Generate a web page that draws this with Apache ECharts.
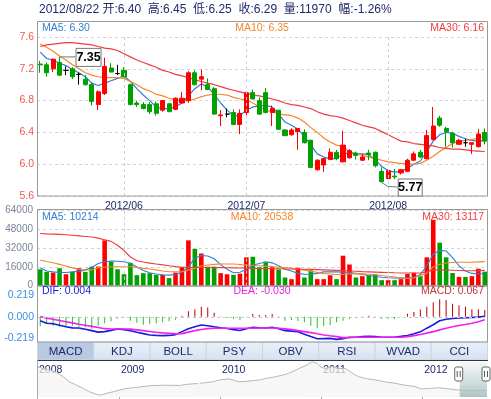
<!DOCTYPE html>
<html>
<head>
<meta charset="utf-8">
<script src="https://cdn.jsdelivr.net/npm/echarts@6/dist/echarts.min.js"></script>
<style>
html, body { margin: 0; padding: 0; background: #fff; }
#main { width: 491px; height: 399px; }
</style>
</head>
<body>
<div id="main"></div>
<script>
// trading days shown in the main window
var dates = [
  '2012/05/15','2012/05/16','2012/05/17','2012/05/18','2012/05/21','2012/05/22','2012/05/23','2012/05/24','2012/05/25','2012/05/28','2012/05/29','2012/05/30','2012/05/31',
  '2012/06/01','2012/06/04','2012/06/05','2012/06/06','2012/06/07','2012/06/08','2012/06/11','2012/06/12','2012/06/13','2012/06/14','2012/06/15','2012/06/18','2012/06/19','2012/06/20','2012/06/25','2012/06/26','2012/06/27','2012/06/28','2012/06/29',
  '2012/07/02','2012/07/03','2012/07/04','2012/07/05','2012/07/06','2012/07/09','2012/07/10','2012/07/11','2012/07/12','2012/07/13','2012/07/16','2012/07/17','2012/07/18','2012/07/19','2012/07/20','2012/07/23','2012/07/24','2012/07/25','2012/07/26','2012/07/27','2012/07/30','2012/07/31',
  '2012/08/01','2012/08/02','2012/08/03','2012/08/06','2012/08/07','2012/08/08','2012/08/09','2012/08/10','2012/08/13','2012/08/14','2012/08/15','2012/08/16','2012/08/17','2012/08/20','2012/08/21','2012/08/22'
];
var monthStarts = ['2012/06/01', '2012/07/02', '2012/08/01'];

var openP  = [7.26,7.25,7.20,7.28,7.18,7.20,7.13,7.07,7.00,6.75,6.89,7.21,7.14,7.18,7.00,6.77,6.75,6.75,6.76,6.68,6.76,6.69,6.77,6.80,7.15,7.07,7.00,6.95,6.61,6.63,6.65,6.50,6.65,6.90,6.80,6.90,6.65,6.68,6.43,6.37,6.41,6.40,6.30,5.93,5.99,6.06,6.15,6.03,6.08,6.14,6.05,6.14,6.15,5.91,5.82,5.85,5.89,5.91,6.05,6.15,6.07,6.31,6.58,6.45,6.39,6.25,6.27,6.25,6.22,6.40];
var closeP = [7.25,7.15,7.32,7.12,7.18,7.10,7.13,7.00,6.79,6.91,7.23,7.16,7.14,7.10,6.75,6.75,6.70,6.66,6.64,6.80,6.66,6.83,6.83,7.15,7.00,7.10,6.94,6.63,6.62,6.63,6.50,6.64,6.90,6.82,6.63,6.65,6.70,6.44,6.36,6.43,6.45,6.27,5.96,6.05,6.07,6.15,6.07,6.24,6.17,6.11,6.09,6.12,5.98,5.78,5.92,5.84,5.93,6.05,6.13,6.09,6.36,6.48,6.49,6.41,6.27,6.30,6.27,6.27,6.38,6.29];
var highP  = [7.30,7.28,7.33,7.35,7.23,7.22,7.15,7.12,7.03,6.93,7.34,7.27,7.25,7.22,7.01,6.80,6.78,6.78,6.79,6.80,6.76,6.84,6.91,7.17,7.18,7.19,7.08,6.97,6.68,6.70,6.69,6.69,6.91,6.94,6.84,6.96,6.74,6.68,6.44,6.45,6.45,6.44,6.31,6.06,6.07,6.20,6.18,6.42,6.19,6.16,6.13,6.18,6.16,5.96,5.93,5.94,5.94,6.07,6.16,6.18,6.43,6.72,6.61,6.47,6.41,6.32,6.32,6.27,6.44,6.45];
var lowP   = [7.15,7.10,7.16,7.11,7.12,7.07,7.00,6.99,6.74,6.68,6.87,7.15,7.12,7.10,6.74,6.72,6.69,6.63,6.61,6.66,6.66,6.68,6.76,6.77,6.99,6.93,6.93,6.62,6.48,6.59,6.49,6.38,6.58,6.82,6.62,6.64,6.48,6.43,6.35,6.36,6.18,6.26,5.95,5.92,5.90,6.05,6.05,6.02,6.07,6.06,6.04,6.05,5.96,5.77,5.81,5.81,5.87,5.90,6.04,6.08,6.06,6.30,6.47,6.22,6.21,6.25,6.22,6.13,6.21,6.25];

var priceMA5  = [7.41,7.33,7.31,7.27,7.24,7.19,7.15,7.10,7.02,6.99,7.02,7.05,7.08,7.11,7.04,6.95,6.87,6.80,6.72,6.70,6.70,6.72,6.77,6.86,6.95,7.01,6.97,6.88,6.77,6.68,6.61,6.61,6.68,6.72,6.73,6.74,6.72,6.63,6.53,6.49,6.44,6.35,6.24,6.13,6.09,6.07,6.07,6.13,6.14,6.13,6.13,6.12,6.06,5.97,5.92,5.90,5.91,5.95,6.00,6.04,6.16,6.29,6.37,6.40,6.39,6.35,6.32,6.30,6.29,6.30];
var priceMA10 = [7.51,7.47,7.42,7.36,7.31,7.25,7.20,7.15,7.12,7.10,7.09,7.09,7.09,7.08,7.04,7.00,6.95,6.92,6.88,6.86,6.83,6.81,6.80,6.80,6.82,6.85,6.87,6.88,6.88,6.87,6.84,6.82,6.81,6.77,6.72,6.68,6.66,6.63,6.62,6.61,6.58,6.53,6.46,6.40,6.33,6.28,6.24,6.22,6.16,6.13,6.11,6.09,6.07,6.05,6.03,6.02,6.01,6.00,6.00,6.01,6.05,6.10,6.16,6.21,6.26,6.29,6.30,6.31,6.33,6.35];
var priceMA30 = [7.48,7.50,7.51,7.52,7.53,7.53,7.52,7.51,7.50,7.48,7.46,7.45,7.43,7.39,7.35,7.31,7.28,7.25,7.22,7.18,7.16,7.13,7.11,7.09,7.06,7.04,7.02,7.00,6.975,6.95,6.93,6.91,6.89,6.87,6.86,6.84,6.82,6.80,6.77,6.75,6.74,6.72,6.70,6.66,6.63,6.61,6.60,6.58,6.55,6.52,6.49,6.47,6.45,6.41,6.37,6.33,6.29,6.28,6.26,6.25,6.24,6.23,6.21,6.20,6.19,6.19,6.18,6.17,6.165,6.16];

var volume = [14000,11800,11200,14900,9800,11800,14900,11800,16300,16300,38700,20500,14000,9800,19600,9000,10700,10700,9300,9300,6500,11200,16000,38700,31400,27500,16300,16300,10700,9800,9300,10300,24200,24700,15800,20000,15800,13900,7000,5600,15300,7000,13100,5600,5600,8900,5600,25600,18100,7000,8100,8900,9700,4700,4700,4700,5600,10000,11000,8000,24200,56200,36700,24200,10800,7500,7500,8100,14500,11970];
var volMA5  = [15400,12500,11800,11200,11300,11800,12200,13500,15500,19000,20500,21000,20800,20500,19000,16000,13000,11000,10000,9300,9000,9500,11500,16000,23500,25800,25400,23000,18000,14000,11000,11500,14000,17500,19000,20500,19500,17000,14000,12500,10500,9800,9800,10500,11800,11800,11800,11500,11200,10500,9800,8500,8000,7200,6800,6600,6500,6600,7000,9500,17000,27000,30000,29800,24000,17000,12500,10500,10200,10214];
var volMA10 = [21900,20700,19600,18200,16800,15200,13800,13400,13400,15200,15700,16200,16200,16200,16200,15500,14800,14200,13400,12600,11900,11900,11900,13500,14800,17000,17700,18200,18500,18500,18500,18100,17700,17300,17000,16700,16300,15800,15400,14900,14200,13300,12400,11400,10300,10000,9600,9700,10100,10300,10100,9800,9400,8700,8100,7400,6700,6200,6700,8800,10500,16000,18200,19400,19800,20000,20000,20100,20300,20538];
var volMA30 = [44500,44200,44000,43800,43500,43000,42500,42000,41500,40600,39200,37800,34500,30000,24500,21300,20200,19300,18500,17800,17000,16300,15800,15600,15500,15500,15500,15400,15400,15300,15200,15100,15000,14800,14700,14600,14500,14400,14300,14200,14100,14000,13900,13700,13500,13300,13100,12900,12600,12300,12000,11800,11600,11400,11200,11000,10900,10800,10800,10900,11800,13500,13600,13400,13200,13000,12800,12700,12900,13117];

var dif  = [-0.040,-0.066,-0.070,-0.085,-0.100,-0.112,-0.113,-0.125,-0.140,-0.155,-0.150,-0.137,-0.123,-0.130,-0.140,-0.156,-0.170,-0.183,-0.188,-0.190,-0.188,-0.180,-0.150,-0.120,-0.100,-0.083,-0.090,-0.100,-0.110,-0.118,-0.130,-0.138,-0.120,-0.106,-0.110,-0.113,-0.106,-0.120,-0.140,-0.145,-0.150,-0.175,-0.200,-0.222,-0.220,-0.218,-0.228,-0.220,-0.206,-0.206,-0.200,-0.196,-0.200,-0.206,-0.206,-0.206,-0.198,-0.188,-0.172,-0.152,-0.115,-0.080,-0.040,-0.025,-0.017,-0.012,-0.010,-0.007,-0.004,0.004];
var dea  = [0.003,-0.015,-0.025,-0.038,-0.050,-0.062,-0.075,-0.085,-0.097,-0.108,-0.120,-0.123,-0.123,-0.123,-0.125,-0.132,-0.140,-0.148,-0.156,-0.162,-0.166,-0.172,-0.170,-0.155,-0.140,-0.128,-0.120,-0.116,-0.116,-0.116,-0.116,-0.116,-0.116,-0.115,-0.114,-0.113,-0.113,-0.115,-0.122,-0.130,-0.140,-0.150,-0.160,-0.172,-0.183,-0.192,-0.200,-0.210,-0.210,-0.206,-0.206,-0.206,-0.206,-0.206,-0.206,-0.206,-0.206,-0.200,-0.190,-0.178,-0.165,-0.150,-0.132,-0.115,-0.100,-0.088,-0.078,-0.066,-0.050,-0.030];
var macd = [-0.095,-0.075,-0.090,-0.100,-0.100,-0.090,-0.100,-0.105,-0.120,-0.090,-0.065,-0.045,-0.020,-0.005,-0.040,-0.060,-0.080,-0.075,-0.065,-0.055,-0.045,-0.030,0.010,0.055,0.075,0.100,0.094,0.040,0.003,-0.013,-0.023,-0.033,0.003,0.027,0.017,0.017,0.027,0.002,-0.040,-0.033,-0.043,-0.056,-0.090,-0.116,-0.096,-0.083,-0.056,-0.040,-0.023,-0.013,-0.003,0.010,-0.003,-0.023,-0.023,-0.023,-0.003,0.030,0.047,0.072,0.100,0.145,0.176,0.169,0.132,0.115,0.101,0.075,0.075,0.067];

// overview strip (year fraction, relative level 0..100)
var navYears  = [2008.19,2008.25,2008.32,2008.38,2008.45,2008.51,2008.58,2008.65,2008.71,2008.78,2008.81,2008.88,2008.94,2009.01,2009.07,2009.14,2009.24,2009.33,2009.47,2009.60,2009.66,2009.80,2009.93,2009.99,2010.09,2010.19,2010.29,2010.39,2010.45,2010.55,2010.65,2010.71,2010.78,2010.85,2010.91,2010.96,2010.99,2011.04,2011.11,2011.17,2011.24,2011.31,2011.37,2011.44,2011.54,2011.63,2011.73,2011.83,2011.93,2011.99,2012.06,2012.16,2012.26,2012.36,2012.49,2012.64];
var navValues = [82,77,73,67,55,41,32,23,14,7,5,10,14,19,23,25,28,31,32,31,34,37,41,46,49,41,43,46,50,55,61,68,77,85,95,91,82,77,82,77,77,64,55,50,46,41,37,32,28,22,23,25,22,19,16,19];
var navYearTicks = [2008.19, 2009, 2010, 2011, 2012];
var navSelStart = 2012.37;

var tabs = ['MACD', 'KDJ', 'BOLL', 'PSY', 'OBV', 'RSI', 'WVAD', 'CCI'];

var UP = '#ff0000', DOWN = '#00a000';
var C5 = '#2f7fd6', C10 = '#f5862a', C30 = '#f03c3c';
var NAVY = '#1f2a6b';
var FONT = 'Liberation Sans, Arial, "Noto Sans CJK SC", sans-serif';

var n = dates.length;
var candle = dates.map(function (d, i) { return [openP[i], closeP[i], lowP[i], highP[i]]; });
function isUp(i) {
  if (closeP[i] !== openP[i]) return closeP[i] > openP[i];
  return i > 0 ? closeP[i] >= closeP[i - 1] : true;
}

var monthLine = {
  silent: true, symbol: 'none', animation: false, label: { show: false },
  lineStyle: { color: '#d0d0d0', type: [3, 3], width: 1 },
  data: monthStarts.map(function (d) { return { xAxis: d }; })
};

function catAxis(gi, showLabel) {
  return {
    type: 'category', gridIndex: gi, data: dates, boundaryGap: true,
    axisLine: { show: false }, axisTick: { show: false }, splitLine: { show: false },
    axisLabel: {
      show: showLabel, color: NAVY, fontSize: 10.5, margin: 5,
      interval: function (idx, val) { return monthStarts.indexOf(val) >= 0; },
      formatter: function (v) { return v.slice(0, 7); }
    }
  };
}

function lineS(name, data, color, xi, w) {
  return {
    name: name, type: 'line', xAxisIndex: xi, yAxisIndex: xi, data: data,
    showSymbol: false, silent: true, lineStyle: { color: color, width: w || 1.2 }, z: 3
  };
}

var dashed = { lineStyle: { color: '#d4d4d4', type: [3, 3] } };

var option = {
  animation: false,
  textStyle: { fontFamily: FONT },
  grid: [
    { left: 37, right: 3, top: 37, height: 159 },
    { left: 37, right: 3, top: 210.7, height: 75 },
    { left: 37, right: 3, top: 295, height: 43.5 },
    { left: 37, right: 4, top: 360, height: 37 }
  ],
  xAxis: [
    catAxis(0, true), catAxis(1, false), catAxis(2, false),
    {
      type: 'value', gridIndex: 3, min: navYears[0], max: navYears[navYears.length - 1], position: 'top',
      axisLine: { show: false }, splitLine: { show: false },
      axisTick: { show: true, inside: true, length: 7, customValues: navYearTicks, lineStyle: { color: '#aaa' } },
      axisLabel: {
        show: true, inside: true, customValues: navYearTicks, align: 'left', margin: 5,
        color: NAVY, fontSize: 10.5, padding: [0, 0, 0, 2],
        formatter: function (v) { return String(Math.floor(v + 1e-6)); }
      }
    }
  ],
  yAxis: [
    {
      gridIndex: 0, min: 5.6, max: 7.6, interval: 0.4,
      axisLine: { show: false }, axisTick: { show: false }, splitLine: dashed,
      axisLabel: { color: '#f05a4a', fontSize: 10.5, margin: 3, formatter: function (v) { return v.toFixed(1); } }
    },
    {
      gridIndex: 1, min: 0, max: 64000, interval: 16000,
      axisLine: { show: false }, axisTick: { show: false }, splitLine: dashed,
      axisLabel: { color: '#7a8598', fontSize: 10, margin: 4, formatter: function (v) { return String(v); } }
    },
    {
      gridIndex: 2, min: -0.219, max: 0.219, interval: 0.219,
      axisLine: { show: false }, axisTick: { show: false }, splitLine: { show: false },
      axisLabel: { color: '#3a8ee6', fontSize: 10.5, margin: 3, formatter: function (v) { return v.toFixed(3); } }
    },
    { gridIndex: 3, min: 0, max: 100, show: false }
  ],
  series: [
    {
      name: 'K', type: 'candlestick', xAxisIndex: 0, yAxisIndex: 0, data: candle, barWidth: 4.6,
      itemStyle: { color: UP, color0: DOWN, borderColor: UP, borderColor0: DOWN, borderColorDoji: '#000', borderWidth: 1 },
      markLine: monthLine, z: 4
    },
    lineS('MA5', priceMA5, C5, 0),
    lineS('MA10', priceMA10, C10, 0),
    lineS('MA30', priceMA30, C30, 0),
    {
      name: 'VOL', type: 'bar', xAxisIndex: 1, yAxisIndex: 1, barWidth: 4.6,
      data: volume.map(function (v, i) { return { value: v, itemStyle: { color: isUp(i) ? UP : DOWN } }; }),
      markLine: monthLine
    },
    lineS('VMA5', volMA5, C5, 1, 1.1),
    lineS('VMA10', volMA10, C10, 1, 1.1),
    lineS('VMA30', volMA30, C30, 1, 1.1),
    {
      name: 'MACD', type: 'bar', xAxisIndex: 2, yAxisIndex: 2, barWidth: 1,
      data: macd.map(function (v) { return { value: v, itemStyle: { color: v >= 0 ? '#b80000' : '#22c322' } }; }),
      markLine: {
        silent: true, symbol: 'none', animation: false, label: { show: false },
        lineStyle: { color: '#c8c8c8', type: [3, 3], width: 1 },
        data: [{ yAxis: 0 }, { yAxis: 0.219 }]
      }
    },
    { name: 'DIF', type: 'line', xAxisIndex: 2, yAxisIndex: 2, data: dif, showSymbol: false, clip: false, lineStyle: { color: '#1a1ae0', width: 1.6 }, z: 3 },
    { name: 'DEA', type: 'line', xAxisIndex: 2, yAxisIndex: 2, data: dea, showSymbol: false, clip: false, lineStyle: { color: '#f020f0', width: 1.6 }, z: 3 },
    {
      name: 'NAV', type: 'line', xAxisIndex: 3, yAxisIndex: 3, showSymbol: false,
      data: navYears.map(function (y, i) { return [y, navValues[i]]; }),
      lineStyle: { color: '#b8b8b8', width: 1 }, areaStyle: { color: '#f4f4f4' }
    }
  ]
};

var chart = echarts.init(document.getElementById('main'));
chart.setOption(option);

// panels, texts, tabs and annotations
var g = [];
function txt(x, y, s, color, size, align, weight) {
  g.push({ type: 'text', x: x, y: y, z: 20, silent: true,
    style: { text: s, fill: color, fontSize: size, fontFamily: FONT, fontWeight: weight || 'normal', align: align || 'left', verticalAlign: 'middle' } });
}
function frame(x, y, w, h, c) {
  g.push({ type: 'rect', z: 15, silent: true, shape: { x: x, y: y, width: w, height: h }, style: { fill: 'none', stroke: c || '#9a9a9a', lineWidth: 1 } });
}

txt(39, 9.5, '2012/08/22 开:6.40  高:6.45  低:6.25  收:6.29  量:11970  幅:-1.26%', NAVY, 12);

frame(37.5, 21.5, 450, 174.5);
frame(37.5, 209.5, 450, 76.5);
frame(37.5, 286, 450, 56);

var last = n - 1;
txt(42, 28.5, 'MA5: ' + priceMA5[last].toFixed(2), C5, 10.5);
txt(262, 28.5, 'MA10: ' + priceMA10[last].toFixed(2), C10, 10.5, 'center');
txt(484, 28.5, 'MA30: ' + priceMA30[last].toFixed(2), C30, 10.5, 'right');
txt(42, 217, 'MA5: ' + volMA5[last], C5, 10.5);
txt(262, 217, 'MA10: ' + volMA10[last], C10, 10.5, 'center');
txt(484, 217, 'MA30: ' + volMA30[last], C30, 10.5, 'right');
txt(42, 291.5, 'DIF: ' + dif[last].toFixed(3), '#1a1ae0', 10.5);
txt(262, 291.5, 'DEA: ' + dea[last].toFixed(3), '#e81ee8', 10.5, 'center');
txt(484, 291.5, 'MACD: ' + macd[last].toFixed(3), '#c03434', 10.5, 'right');

// indicator tabs
var tabW = 450 / tabs.length;
tabs.forEach(function (t, i) {
  var x = 37.5 + i * tabW;
  g.push({ type: 'rect', z: 12, silent: true, shape: { x: x, y: 342, width: tabW, height: 18 },
    style: { fill: i === 0 ? '#b8c9e2' : new echarts.graphic.LinearGradient(0, 0, 0, 1, [{ offset: 0, color: '#eaf0f8' }, { offset: 1, color: '#d6e1f0' }]),
      stroke: '#c9d5e6', lineWidth: 1 } });
  txt(x + tabW / 2, 351.5, t, NAVY, 11.5, 'center');
});

// overview strip
var selX = chart.convertToPixel({ gridIndex: 3 }, [navSelStart, 0])[0];
g.push({ type: 'rect', z: 9, silent: true, shape: { x: selX, y: 362, width: 487 - selX, height: 35 },
  style: { fill: new echarts.graphic.LinearGradient(0, 0, 0, 1, [{ offset: 0, color: 'rgba(235,242,242,0.6)' }, { offset: 1, color: 'rgba(150,180,180,0.75)' }]) } });
txt(247, 390, 'fraserfair.com', '#f5f5f5', 17, 'center');
g.push({ type: 'line', z: 16, silent: true, shape: { x1: 37, y1: 360.5, x2: 488, y2: 360.5 }, style: { stroke: '#333', lineWidth: 1 } });
g.push({ type: 'line', z: 16, silent: true, shape: { x1: 37.5, y1: 360, x2: 37.5, y2: 397 }, style: { stroke: '#aaa', lineWidth: 1 } });
[selX - 1, 486].forEach(function (hx) {
  g.push({ type: 'rect', z: 17, silent: true, shape: { x: hx - 4, y: 367, width: 8, height: 14, r: 2 }, style: { fill: '#fff', stroke: '#666', lineWidth: 1 } });
  g.push({ type: 'line', z: 18, silent: true, shape: { x1: hx - 1.5, y1: 371, x2: hx - 1.5, y2: 377 }, style: { stroke: '#555', lineWidth: 1 } });
  g.push({ type: 'line', z: 18, silent: true, shape: { x1: hx + 1.5, y1: 371, x2: hx + 1.5, y2: 377 }, style: { stroke: '#555', lineWidth: 1 } });
});

// highest high / lowest low labels
var hi = 0, lo = 0;
for (var i = 1; i < n; i++) {
  if (highP[i] > highP[hi]) hi = i;
  if (lowP[i] < lowP[lo]) lo = i;
}
var ph = chart.convertToPixel({ gridIndex: 0 }, [hi, highP[hi]]);
g.push({ type: 'line', z: 16, silent: true, shape: { x1: ph[0], y1: ph[1], x2: ph[0] + 16, y2: ph[1] }, style: { stroke: '#777', lineWidth: 1 } });
g.push({ type: 'rect', z: 16, silent: true, shape: { x: ph[0] + 16.5, y: ph[1] - 8.5, width: 25, height: 18 }, style: { fill: '#fff', stroke: '#777', lineWidth: 1 } });
txt(ph[0] + 29, ph[1] + 0.5, highP[hi].toFixed(2), '#000', 12.5, 'center', 'bold');
var pl = chart.convertToPixel({ gridIndex: 0 }, [lo, lowP[lo]]);
g.push({ type: 'polyline', z: 16, silent: true, shape: { points: [[pl[0], pl[1]], [pl[0] + 6, pl[1] + 4], [pl[0] + 16, pl[1] + 4.5]] }, style: { stroke: '#777', fill: 'none', lineWidth: 1 } });
g.push({ type: 'rect', z: 16, silent: true, shape: { x: pl[0] + 16.5, y: pl[1] - 3.5, width: 24, height: 17 }, style: { fill: '#fff', stroke: '#777', lineWidth: 1 } });
txt(pl[0] + 28.5, pl[1] + 5, lowP[lo].toFixed(2), '#000', 12.5, 'center', 'bold');

chart.setOption({ graphic: g });
</script>
</body>
</html>
